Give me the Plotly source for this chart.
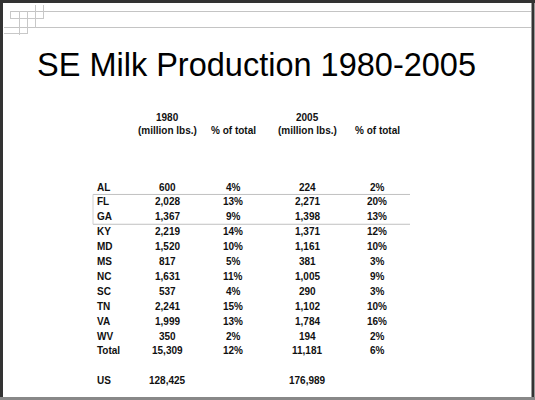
import plotly.graph_objects as go

title = "SE Milk Production 1980-2005"
states = ["AL", "FL", "GA", "KY", "MD", "MS", "NC", "SC", "TN", "VA", "WV", "Total"]
prod_1980 = [600, 2028, 1367, 2219, 1520, 817, 1631, 537, 2241, 1999, 350, 15309]
pct_1980 = [4, 13, 9, 14, 10, 5, 11, 4, 15, 13, 2, 12]
prod_2005 = [224, 2271, 1398, 1371, 1161, 381, 1005, 290, 1102, 1784, 194, 11181]
pct_2005 = [2, 20, 13, 12, 10, 3, 9, 3, 10, 16, 2, 6]
us_label = "US"
us_1980 = 128425
us_2005 = 176989
header_top = ["1980", "", "2005", ""]
header_bottom = ["(million lbs.)", "% of total", "(million lbs.)", "% of total"]

W, H = 535, 400
FONT = "Liberation Sans, Arial, sans-serif"
col_x = [167, 233, 307, 377]
label_x = 95
row0_y, row_dy = 187, 14.9
us_y = 380
fs = 10

fig = go.Figure()
fig.add_trace(go.Scatter(x=[0], y=[0], mode="markers", marker=dict(opacity=0), hoverinfo="skip", showlegend=False))

ann = []
def txt(x, y, s, anchor="center", size=fs, bold=True):
    ann.append(dict(x=x, y=y, xref="x", yref="y", text=f"<b>{s}</b>" if bold else s,
                    showarrow=False, xanchor=anchor, yanchor="middle",
                    font=dict(family=FONT, size=size, color="#111")))

# title
ann.append(dict(x=35, y=65, xref="x", yref="y", text=title, showarrow=False,
                xanchor="left", yanchor="middle", font=dict(family=FONT, size=32.5, color="#000")))

for i, (t, b) in enumerate(zip(header_top, header_bottom)):
    if t:
        txt(col_x[i], 117, t)
    txt(col_x[i], 130, b)

for i, st in enumerate(states):
    y = row0_y + i * row_dy
    txt(label_x, y, st, anchor="left")
    txt(col_x[0], y, f"{prod_1980[i]:,}")
    txt(col_x[1], y, f"{pct_1980[i]}%")
    txt(col_x[2], y, f"{prod_2005[i]:,}")
    txt(col_x[3], y, f"{pct_2005[i]}%")

txt(label_x, us_y, us_label, anchor="left")
txt(col_x[0], us_y, f"{us_1980:,}")
txt(col_x[2], us_y, f"{us_2005:,}")

shapes = []
def line(x0, y0, x1, y1, color, width=1):
    shapes.append(dict(type="line", xref="x", yref="y", x0=x0, y0=y0, x1=x1, y1=y1,
                       line=dict(color=color, width=width)))

# slide frame
line(1.5, 0, 1.5, 400, "#333", 3)
line(0, 1.5, 535, 1.5, "#333", 3)
line(533, 0, 533, 400, "#333", 3)
line(0, 398.5, 535, 398.5, "#888", 3)
# top decorative lines
line(10, 11.5, 531, 11.5, "#c4c4c4", 1)
line(4, 27.5, 531, 27.5, "#c4c4c4", 1)
line(10, 18.5, 43, 18.5, "#c8c8c8", 1)
line(4, 33.5, 27, 33.5, "#c8c8c8", 1)
line(10.5, 11, 10.5, 19, "#c8c8c8", 1)
line(19.5, 11, 19.5, 35, "#c8c8c8", 1)
line(27.5, 11, 27.5, 34, "#c8c8c8", 1)
line(35.5, 5, 35.5, 28, "#c8c8c8", 1)
line(43.5, 5, 43.5, 19, "#c8c8c8", 1)
# highlighted box around FL/GA
ybox0 = row0_y + 0.5 * row_dy
ybox1 = row0_y + 2.5 * row_dy
line(93, ybox0, 410, ybox0, "#c0c0c0", 1)
line(93, ybox1, 410, ybox1, "#c0c0c0", 1)
line(93, ybox0, 93, ybox1, "#d0d0d0", 1)

fig.update_layout(
    width=W, height=H, autosize=False,
    margin=dict(l=0, r=0, t=0, b=0),
    paper_bgcolor="white", plot_bgcolor="white",
    xaxis=dict(range=[0, W], visible=False, fixedrange=True),
    yaxis=dict(range=[H, 0], visible=False, fixedrange=True),
    annotations=ann, shapes=shapes, showlegend=False,
)
fig.write_html("out.html", config={"displayModeBar": False},
               post_script="document.body.style.margin='0';document.body.style.overflow='hidden';")
